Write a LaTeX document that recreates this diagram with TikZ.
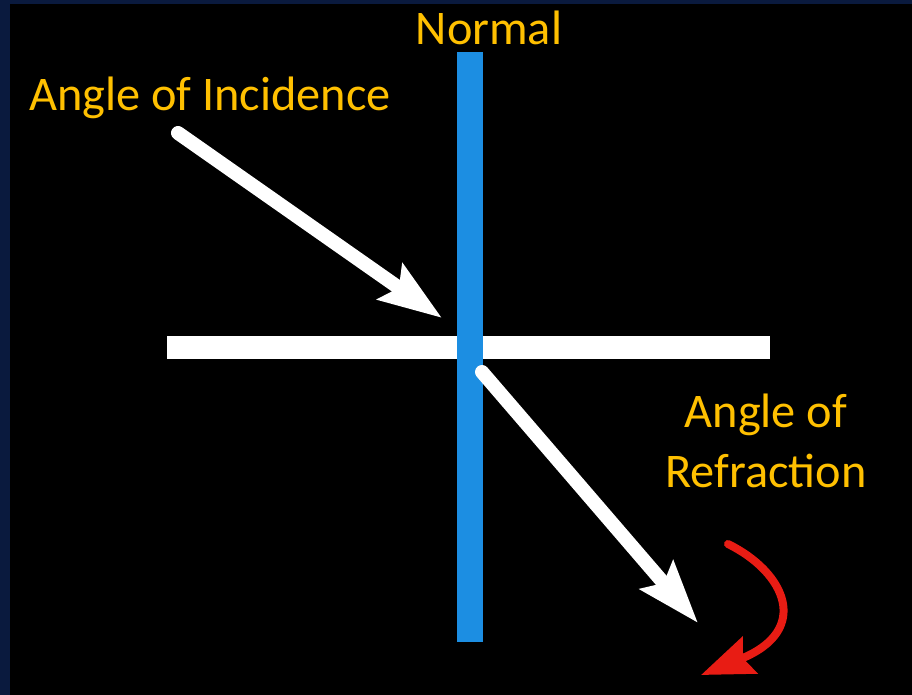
\documentclass[tikz,border=0pt]{standalone}
\usepackage{fontspec}
\setmainfont{Carlito}
\usepackage{xcolor}
\definecolor{navy}{RGB}{10, 26, 62}
\definecolor{gold}{RGB}{255, 192, 0}
\definecolor{normalblue}{RGB}{28, 142, 226}
\definecolor{rayred}{RGB}{232, 28, 20}
\usetikzlibrary{arrows.meta, positioning}

\begin{document}
\begin{tikzpicture}[
    x=0.02cm, y=-0.02cm,
    every text node part/.style={align=center},
    lbl/.style={text=gold, font=\fontsize{27.5}{34}\selectfont, inner sep=0pt},
    ray/.style={draw=white, line width=0.28cm, line cap=round,
        -{Stealth[length=1.25cm, width=0.85cm, inset=0.2cm]}},
    turn/.style={draw=rayred, line width=0.16cm, line cap=round,
        -{Stealth[length=1.05cm, width=0.78cm, inset=0.15cm]}}
]

% ==================== BACKGROUND ====================
\fill[navy] (0,0) rectangle (912,695);
\fill[black] (10,4) rectangle (912,695);
\useasboundingbox (0,0) rectangle (912,695);

% ==================== SURFACE & NORMAL ====================
\fill[white] (167,336) rectangle (770,359);
\fill[normalblue] (457,52) rectangle (483,642);

% ==================== RAYS ====================
\coordinate (inc_start) at (178,133);
\coordinate (inc_end) at (442,318);
\coordinate (ref_start) at (482,372);
\coordinate (ref_end) at (698,623);

\draw[ray] (inc_start) -- (inc_end);
\draw[ray] (ref_start) -- (ref_end);

% ==================== TURN OF THE RAY ====================
\coordinate (turn_start) at (728,544);
\coordinate (turn_end) at (701,675);
\draw[turn] (turn_start) .. controls (785,572) and (812,630) .. (turn_end);

% ==================== LABELS ====================
\node[lbl] (normal_lbl) at (489,28) {Normal};
\node[lbl] (inc_lbl) at (210,98) {Angle of Incidence};
\node[lbl] (ref_lbl) at (766,441) {Angle of\\Refraction};

\end{tikzpicture}
\end{document}
